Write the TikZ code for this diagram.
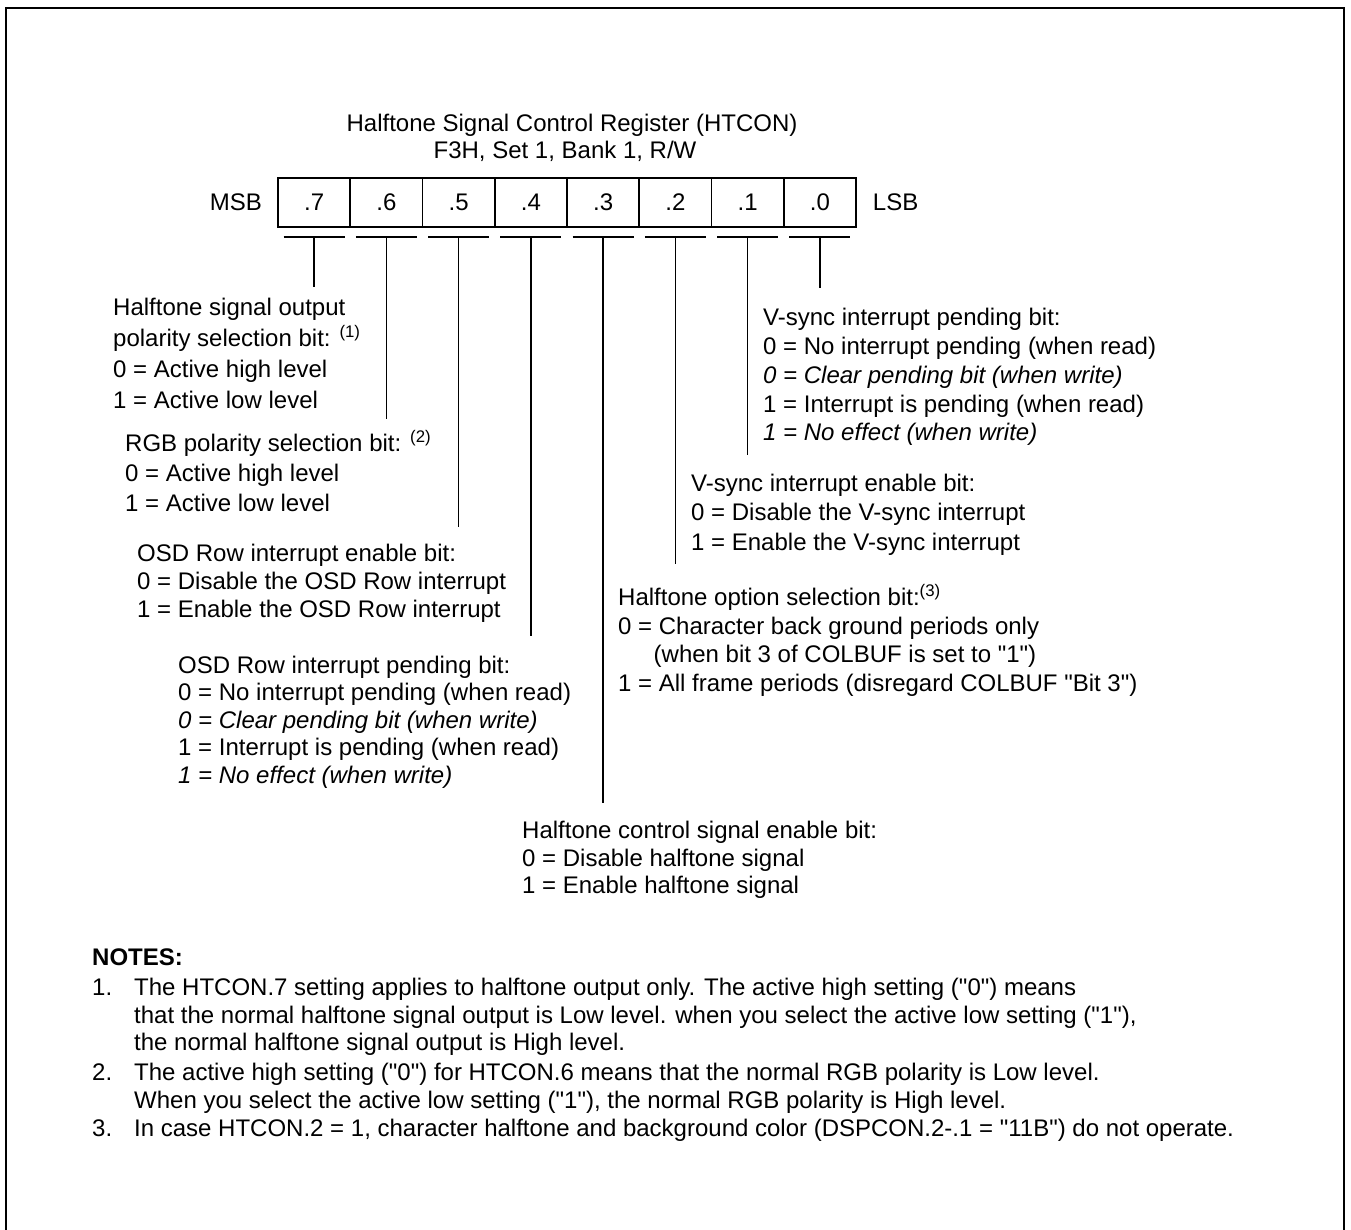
\documentclass[tikz,border=0pt]{standalone}
\usepackage{fontspec}
\setmainfont{Liberation Sans}[Ligatures=TeXOff]
\begin{document}
\begin{tikzpicture}[x=1pt,y=-1pt,font=\fontsize{24}{29}\selectfont,
  cell/.style={draw,line width=1.6pt,minimum width=72.25pt,minimum height=48.5pt,inner sep=0pt,outer sep=0pt},
  rule/.style={line width=1.6pt},
  field/.style={anchor=base west,align=left,inner sep=0pt}]
  \useasboundingbox (0,0) rectangle (1351,1229);
  \draw[line width=2.7pt] (6,8) rectangle (1344,1300);
  % register heading
  \node (title) at (572,125) {Halftone Signal Control Register (HTCON)};
  \node (addr) at (565,151.7) {F3H, Set 1, Bank 1, R/W};
  \node[anchor=east,inner sep=0pt] (msb) at (262,202.5) {MSB};
  \node[anchor=west,inner sep=0pt] (lsb) at (872.7,202.5) {LSB};
  \node[cell] (c7) at (314.125,202.5) {.7};
  \node[cell] (c6) at (386.375,202.5) {.6};
  \node[cell] (c5) at (458.625,202.5) {.5};
  \node[cell] (c4) at (530.875,202.5) {.4};
  \node[cell] (c3) at (603.125,202.5) {.3};
  \node[cell] (c2) at (675.375,202.5) {.2};
  \node[cell] (c1) at (747.625,202.5) {.1};
  \node[cell] (c0) at (819.875,202.5) {.0};
  % stem ends
  \coordinate (e7) at (314.125,287);
  \coordinate (e6) at (386.375,419);
  \coordinate (e5) at (458.625,527);
  \coordinate (e4) at (530.875,636);
  \coordinate (e3) at (603.125,803);
  \coordinate (e2) at (675.375,564);
  \coordinate (e1) at (747.625,455);
  \coordinate (e0) at (819.875,288);
  % bars and stems
  \draw[rule] ([shift={(-30.5,10.25)}]c7.south) -- ([shift={(30.5,10.25)}]c7.south);
  \draw[rule] ([shift={(-30.5,10.25)}]c6.south) -- ([shift={(30.5,10.25)}]c6.south);
  \draw[rule] ([shift={(-30.5,10.25)}]c5.south) -- ([shift={(30.5,10.25)}]c5.south);
  \draw[rule] ([shift={(-30.5,10.25)}]c4.south) -- ([shift={(30.5,10.25)}]c4.south);
  \draw[rule] ([shift={(-30.5,10.25)}]c3.south) -- ([shift={(30.5,10.25)}]c3.south);
  \draw[rule] ([shift={(-30.5,10.25)}]c2.south) -- ([shift={(30.5,10.25)}]c2.south);
  \draw[rule] ([shift={(-30.5,10.25)}]c1.south) -- ([shift={(30.5,10.25)}]c1.south);
  \draw[rule] ([shift={(-30.5,10.25)}]c0.south) -- ([shift={(30.5,10.25)}]c0.south);
  \draw[rule] ([shift={(0,10.25)}]c7.south) -- (e7);
  \draw[rule] ([shift={(0,10.25)}]c6.south) -- (e6);
  \draw[rule] ([shift={(0,10.25)}]c5.south) -- (e5);
  \draw[rule] ([shift={(0,10.25)}]c4.south) -- (e4);
  \draw[rule] ([shift={(0,10.25)}]c3.south) -- (e3);
  \draw[rule] ([shift={(0,10.25)}]c2.south) -- (e2);
  \draw[rule] ([shift={(0,10.25)}]c1.south) -- (e1);
  \draw[rule] ([shift={(0,10.25)}]c0.south) -- (e0);
  % bit descriptions (anchored on the baseline of the last line)
  \node[field,font=\fontsize{24}{31}\selectfont] (b7) at (113,408.3)
    {Halftone signal output\\polarity selection bit: \textsuperscript{(1)}\\0 = Active high level\\1 = Active low level};
  \node[field,font=\fontsize{24}{30}\selectfont] (b6) at (125,511.6)
    {RGB polarity selection bit: \textsuperscript{(2)}\\0 = Active high level\\1 = Active low level};
  \node[field,font=\fontsize{24}{28}\selectfont] (b5) at (137,617.6)
    {OSD Row interrupt enable bit:\\0 = Disable the OSD Row interrupt\\1 = Enable the OSD Row interrupt};
  \node[field,font=\fontsize{24}{27.5}\selectfont] (b4) at (178,783)
    {OSD Row interrupt pending bit:\\0 = No interrupt pending (when read)\\\textit{0 = Clear pending bit (when write)}\\1 = Interrupt is pending (when read)\\\textit{1 = No effect (when write)}};
  \node[field,font=\fontsize{24}{27.5}\selectfont] (b3) at (522,893.6)
    {Halftone control signal enable bit:\\0 = Disable halftone signal\\1 = Enable halftone signal};
  \node[field,font=\fontsize{24}{28.8}\selectfont] (b2) at (618,691.7)
    {Halftone option selection bit:\textsuperscript{(3)}\\0 = Character back ground periods only\\\hspace*{35.5pt}(when bit 3 of COLBUF is set to "1")\\1 = All frame periods (disregard COLBUF "Bit 3")};
  \node[field,font=\fontsize{24}{29.3}\selectfont] (b1) at (691,550.2)
    {V-sync interrupt enable bit:\\0 = Disable the V-sync interrupt\\1 = Enable the V-sync interrupt};
  \node[field,font=\fontsize{24}{28.8}\selectfont] (b0) at (763,440.8)
    {V-sync interrupt pending bit:\\0 = No interrupt pending (when read)\\\textit{0 = Clear pending bit (when write)}\\1 = Interrupt is pending (when read)\\\textit{1 = No effect (when write)}};
  % notes
  \node[field] (notes) at (92,965.6) {\bfseries NOTES:};
  \node[field] (n1no) at (92,995.6) {1.};
  \node[field,font=\fontsize{24}{27.5}\selectfont] (n1) at (134,1050.6)
    {The HTCON.7 setting applies to halftone output only. The active high setting ("0") means\\that the normal halftone signal output is Low level. when you select the active low setting ("1"),\\the normal halftone signal output is High level.};
  \node[field] (n2no) at (92,1080.6) {2.};
  \node[field,font=\fontsize{24}{28}\selectfont] (n2) at (134,1108.6)
    {The active high setting ("0") for HTCON.6 means that the normal RGB polarity is Low level.\\When you select the active low setting ("1"), the normal RGB polarity is High level.};
  \node[field] (n3no) at (92,1136.6) {3.};
  \node[field] (n3) at (134,1136.6)
    {In case HTCON.2 = 1, character halftone and background color (DSPCON.2-.1 = "11B") do not operate.};
\end{tikzpicture}
\end{document}
